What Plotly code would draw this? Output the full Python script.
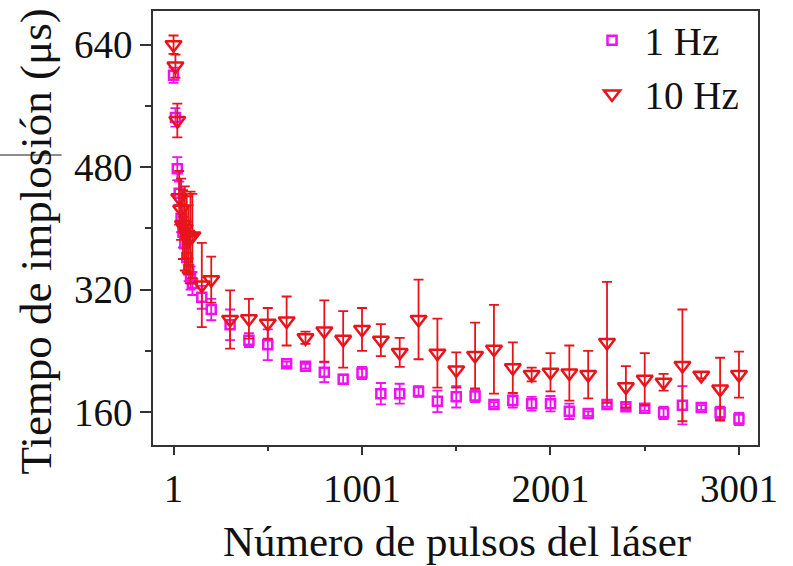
import plotly.graph_objects as go

# ---- data ----
pulsos = [1, 11, 21, 31, 41, 51, 61, 71, 81, 91, 101, 151, 201,
          301, 401, 501, 601, 701, 801, 901, 1001, 1101, 1201, 1301, 1401,
          1501, 1601, 1701, 1801, 1901, 2001, 2101, 2201, 2301, 2401, 2501,
          2601, 2701, 2801, 2901, 3001]

t_1hz = [600, 545, 478, 446, 413, 395, 380, 362, 346, 335, 328, 310, 294,
         274, 254, 248, 223, 220, 212, 203, 211, 184, 184, 187, 174,
         180, 181, 170, 175, 171, 171, 161, 158, 170, 167, 165,
         159, 169, 166, 159, 151]
err_1hz = [10, 12, 15, 15, 18, 20, 20, 18, 15, 15, 15, 15, 14,
           20, 9, 20, 3, 3, 13, 6, 8, 14, 13, 7, 14,
           14, 8, 3, 9, 9, 10, 10, 3, 3, 3, 3,
           8, 25, 3, 8, 8]

t_10hz = [640, 612, 541, 440, 425, 405, 400, 392, 385, 388, 390, 326, 333,
          281, 282, 276, 279, 257, 266, 255, 268, 254, 238, 281, 237,
          215, 234, 242, 218, 209, 212, 211, 209, 251, 193, 203,
          199, 221, 208, 190, 209]
err_10hz = [12, 15, 22, 35, 40, 45, 55, 50, 45, 60, 55, 55, 30,
            38, 26, 20, 32, 8, 40, 37, 28, 21, 19, 52, 45,
            23, 43, 58, 33, 9, 25, 36, 31, 79, 27, 34,
            11, 73, 4, 41, 30]

x_ticks = [1, 1001, 2001, 3001]
y_ticks = [160, 320, 480, 640]

MAG = "#F010F0"
RED = "#E8141B"
FONT = "Liberation Serif"

fig = go.Figure()
fig.add_trace(go.Scatter(
    x=pulsos, y=t_1hz, mode="markers", name="1 Hz",
    marker=dict(symbol="square-open", size=9, color=MAG, line=dict(width=2.5, color=MAG)),
    error_y=dict(type="data", array=err_1hz, visible=True, color=MAG, thickness=1.8, width=5),
))
fig.add_trace(go.Scatter(
    x=pulsos, y=t_10hz, mode="markers", name="10 Hz",
    marker=dict(symbol="triangle-down-open", size=14, color=RED, line=dict(width=2.5, color=RED)),
    error_y=dict(type="data", array=err_10hz, visible=True, color=RED, thickness=1.8, width=5),
))

axis_common = dict(
    showline=True, linecolor="#333333", linewidth=1.5, mirror=True,
    showgrid=False, zeroline=False, ticks="outside", tickcolor="#333333",
    tickwidth=1.5, tickfont=dict(family=FONT, size=39, color="#111111"),
)

fig.update_layout(
    width=793, height=566,
    margin=dict(l=153, r=35, t=8, b=121),
    paper_bgcolor="white", plot_bgcolor="white",
    showlegend=True,
    legend=dict(x=0.705, y=1.006, xanchor="left", yanchor="top",
                bgcolor="rgba(0,0,0,0)", font=dict(family=FONT, size=39, color="#111111"),
                itemwidth=55),
    xaxis=dict(range=[-108, 3102], tickvals=x_ticks, ticktext=[str(v) for v in x_ticks],
               ticklen=8, minor=dict(tick0=1, dtick=500, ticks="outside", ticklen=4,
                                     tickcolor="#333333", tickwidth=1.5),
               **axis_common),
    yaxis=dict(range=[117, 684], tickvals=y_ticks, ticktext=[str(v) for v in y_ticks],
               ticklen=11, minor=dict(tick0=0, dtick=80, ticks="outside", ticklen=6,
                                      tickcolor="#333333", tickwidth=1.5),
               **axis_common),
    annotations=[
        dict(text="Número de pulsos del láser", xref="paper", yref="paper",
             x=0.503, y=-0.222, xanchor="center", yanchor="middle", showarrow=False,
             font=dict(family=FONT, size=43, color="#111111")),
        dict(text="Tiempo de implosión (μs)", xref="paper", yref="paper",
             x=-0.194, y=0.468, xanchor="center", yanchor="middle", showarrow=False,
             textangle=-90, font=dict(family=FONT, size=45, color="#111111")),
    ],
    shapes=[
        dict(type="line", xref="paper", yref="paper", x0=-0.253, x1=-0.151,
             y0=0.668, y1=0.668, line=dict(color="#666666", width=1.5)),
    ],
)

fig.write_html("out.html")
